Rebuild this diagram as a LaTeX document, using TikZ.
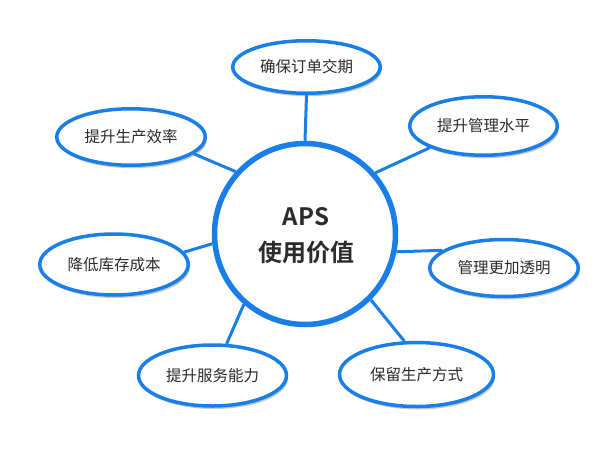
\documentclass[tikz,border=0pt]{standalone}
\usepackage{fontspec}
\setmainfont{Noto Sans CJK SC}
\newfontfamily\cjkbold{Noto Sans CJK SC Bold}
\usetikzlibrary{shapes.geometric,shadows,backgrounds}
\definecolor{apsblue}{HTML}{1A7EE8}
\definecolor{apstext}{HTML}{2B2B2B}
\tikzset{
  hub/.style={circle, draw=apsblue, line width=5.5pt, fill=white, minimum size=181pt, inner sep=0pt, align=center, text=apstext},
  leaf/.style={ellipse, draw=apsblue, line width=3.5pt, fill=white, minimum width=148pt, minimum height=57pt, inner sep=0pt, text=apstext, font=\fontsize{15.5pt}{18pt}\selectfont,
    drop shadow={shadow xshift=1.5pt, shadow yshift=-3pt, opacity=0.35, fill=black!60}},
  link/.style={draw=apsblue, line width=3pt},
  bigtext/.style={text=apstext, font=\cjkbold\fontsize{24pt}{28pt}\selectfont}
}
\begin{document}
\begin{tikzpicture}[x=1pt,y=-1pt]
\useasboundingbox (0,0) rectangle (600,461);
\node[hub] (c) at (305,234) {};
\node[bigtext] (t1) at (306,217) {APS};
\node[bigtext] (t2) at (306,252) {使用价值};
\node[leaf, minimum width=147.5pt, minimum height=52.5pt] (e1) at (306.5,67) {确保订单交期};
\node[leaf, minimum width=148.5pt, minimum height=56.5pt] (e2) at (131,137) {提升生产效率};
\node[leaf, minimum width=147.5pt, minimum height=58.5pt] (e3) at (483.5,126) {提升管理水平};
\node[leaf, minimum width=148.5pt, minimum height=61pt] (e4) at (114,264.5) {降低库存成本};
\node[leaf, minimum width=148.5pt, minimum height=57pt] (e5) at (504,268) {管理更加透明};
\node[leaf, minimum width=148pt, minimum height=61pt] (e6) at (212.5,375.5) {提升服务能力};
\node[leaf, minimum width=154pt, minimum height=64pt] (e7) at (416.5,374.5) {保留生产方式};
\begin{pgfonlayer}{background}
  \fill[white] (0,0) rectangle (600,461);
  \draw[link] (c.90) -- (e1.-90);
  \draw[link] (c.138.6) -- (e2.-15.6);
  \draw[link] (c.41) -- (e3.202);
  \draw[link] (c.186.6) -- (e4.10.5);
  \draw[link] (c.-11.8) -- (e5.164);
  \draw[link] (c.229) -- (e6.66.8);
  \draw[link] (c.-45.7) -- (e7.110.5);
\end{pgfonlayer}
\end{tikzpicture}
\end{document}
